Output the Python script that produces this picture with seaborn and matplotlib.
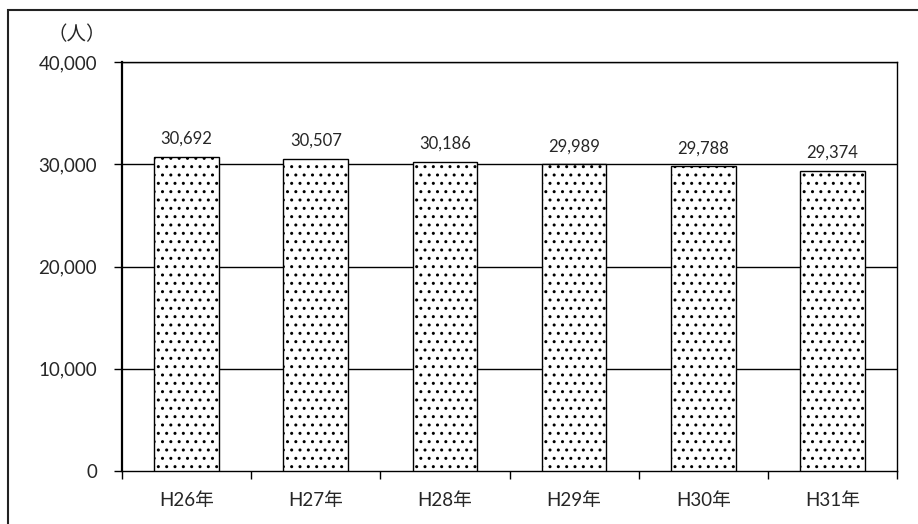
import matplotlib
matplotlib.use("Agg")
import matplotlib.pyplot as plt
import seaborn as sns
import pandas as pd
import numpy as np
from matplotlib.patches import Rectangle
from matplotlib.ticker import FuncFormatter, FixedLocator

years = ["H26年", "H27年", "H28年", "H29年", "H30年", "H31年"]
people = [30692, 30507, 30186, 29989, 29788, 29374]
y_ticks = [0, 10000, 20000, 30000, 40000]

sns.set_theme(style="white")
plt.rcParams["font.family"] = ["Lato", "Noto Sans CJK JP", "DejaVu Sans"]
plt.rcParams["hatch.linewidth"] = 1.0
plt.rcParams["hatch.color"] = "#444444"

W, H = 918, 524
fig = plt.figure(figsize=(W / 100, H / 100), dpi=100)
ax = fig.add_axes([122 / W, 1 - 471 / H, (897 - 122) / W, (471 - 62) / H])

df = pd.DataFrame({"year": years, "people": people})
sns.barplot(data=df, x="year", y="people", ax=ax, color="white",
            edgecolor="black", linewidth=1.0, width=0.5, hatch="..",
            saturation=1, errorbar=None, zorder=3)

ax.set_ylim(0, 40000)
ax.set_xlim(-0.5, len(years) - 0.5)
ax.set_yticks(y_ticks)
ax.yaxis.set_major_formatter(FuncFormatter(lambda v, p: f"{int(v):,}"))
ax.set_xlabel("")
ax.set_ylabel("")

for v in y_ticks[1:]:
    ax.axhline(v, color="black", linewidth=1.0, zorder=1)

for s in ax.spines.values():
    s.set_color("black")
    s.set_linewidth(1.0)
ax.spines["left"].set_linewidth(1.6)

ax.tick_params(axis="y", which="major", length=6, width=1.0, color="black",
               direction="out", labelsize=13.5, pad=12, left=True)
ax.tick_params(axis="x", which="major", length=0, labelsize=13.5, pad=15)
ax.xaxis.set_minor_locator(FixedLocator(np.arange(-0.5, len(years), 1.0)))
ax.tick_params(axis="x", which="minor", length=6, width=1.0, color="black",
               direction="out", bottom=True)

for i, v in enumerate(people):
    ax.text(i, v + 1000, f"{v:,}", ha="center", va="bottom", fontsize=12)

fig.text(77 / W, 1 - 35 / H, "（人）", ha="center", va="center", fontsize=14,
         family=["Noto Sans CJK JP", "DejaVu Sans"])

# frame around the chart area
fig.patches.append(Rectangle((8 / W, -0.1), 1.2, 1.1 - 10 / H, transform=fig.transFigure,
                             fill=False, edgecolor="#222222", linewidth=1.5))

fig.savefig("out.png", dpi=100)
